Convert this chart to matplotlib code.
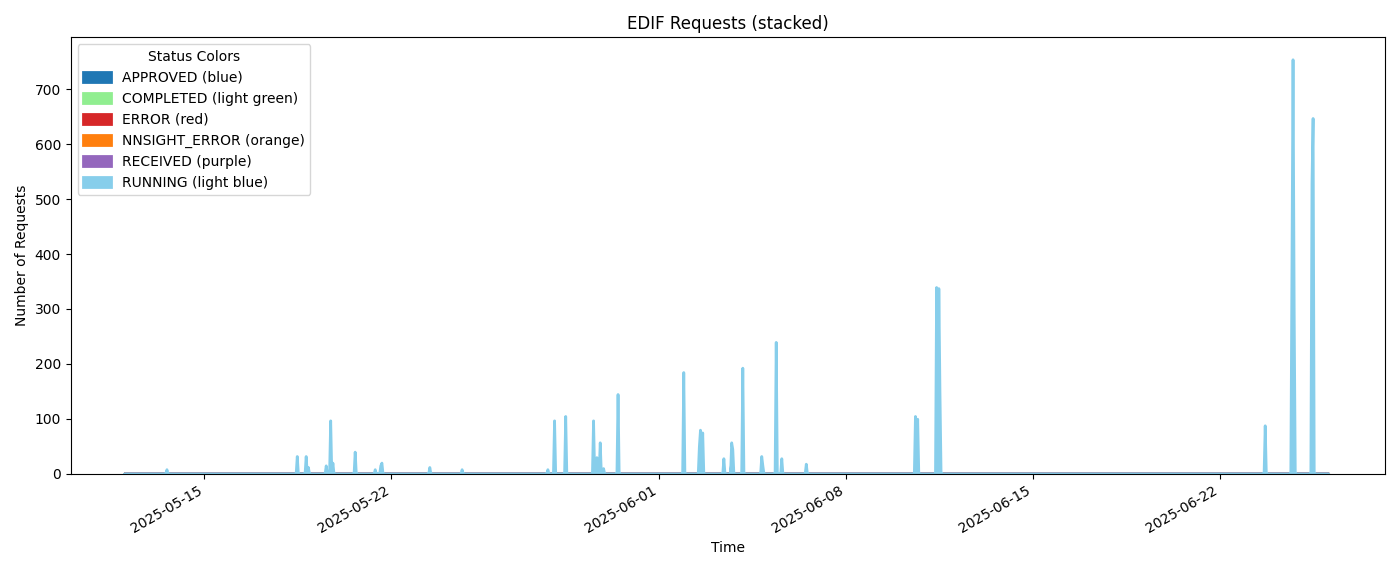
import numpy as np
import pandas as pd
import matplotlib
matplotlib.use("Agg")
import matplotlib.pyplot as plt
import matplotlib.dates as mdates

# hourly counts, zero everywhere except the spikes listed here
start = "2025-05-12 00:00"
end = "2025-06-26 01:00"
spike_times = ["2025-05-13 14:00", "2025-05-18 11:00", "2025-05-18 19:00", "2025-05-18 21:00",
               "2025-05-19 13:00", "2025-05-19 17:00", "2025-05-19 19:00", "2025-05-20 15:00",
               "2025-05-21 09:00", "2025-05-21 14:00", "2025-05-21 15:00", "2025-05-23 10:00",
               "2025-05-24 15:00", "2025-05-27 20:00", "2025-05-28 02:00", "2025-05-28 12:00",
               "2025-05-29 13:00", "2025-05-29 16:00", "2025-05-29 19:00", "2025-05-29 22:00",
               "2025-05-30 11:00", "2025-06-01 22:00", "2025-06-02 12:00", "2025-06-02 13:00",
               "2025-06-02 15:00", "2025-06-03 10:00", "2025-06-03 17:00", "2025-06-03 18:00",
               "2025-06-04 03:00", "2025-06-04 20:00", "2025-06-04 21:00", "2025-06-05 09:00",
               "2025-06-05 14:00", "2025-06-06 12:00", "2025-06-10 14:00", "2025-06-10 16:00",
               "2025-06-11 09:00", "2025-06-11 11:00", "2025-06-11 12:00", "2025-06-23 16:00",
               "2025-06-24 16:00", "2025-06-24 17:00", "2025-06-24 18:00", "2025-06-25 10:00",
               "2025-06-25 11:00"]
approved = [0]*36 + [0, 55, 0] + [0]*6
completed = [0]*45
error = [0]*26 + [10, 0] + [0]*17
nnsight_error = [0]*26 + [5, 0] + [0]*8 + [0, 30, 0] + [0]*6
received = [0]*26 + [5, 0] + [0]*8 + [0, 25, 0] + [0]*6
running = [8, 32, 32, 12, 15, 97, 20, 40, 8, 15, 20, 12, 8, 8, 97, 105, 97, 30, 57, 10,
           145, 185, 50, 80, 75, 28, 37, 45, 193, 32, 15, 240, 28, 18, 105, 100,
           340, 228, 150, 88, 370, 755, 300, 530, 648]

statuses = ["APPROVED (blue)", "COMPLETED (light green)", "ERROR (red)",
            "NNSIGHT_ERROR (orange)", "RECEIVED (purple)", "RUNNING (light blue)"]
colors = ["#1f77b4", "lightgreen", "#d62728", "#ff7f0e", "#9467bd", "skyblue"]

idx = pd.date_range(start, end, freq="h")
df = pd.DataFrame(0.0, index=idx, columns=statuses)
for col, vals in zip(statuses, [approved, completed, error, nnsight_error, received, running]):
    df.loc[pd.to_datetime(spike_times), col] = vals

fig, ax = plt.subplots(figsize=(14, 5.7), dpi=100)
polys = ax.stackplot(df.index, *[df[c].values for c in statuses], labels=statuses, colors=colors)
for p, c in zip(polys, colors):
    p.set_edgecolor(c)
    p.set_linewidth(2.0)
ax.set_title("EDIF Requests (stacked)")
ax.set_xlabel("Time")
ax.set_ylabel("Number of Requests")
ax.set_ylim(0, 795)
ax.set_xlim(pd.Timestamp("2025-05-10 00:00"), pd.Timestamp("2025-06-28 04:00"))
ax.xaxis.set_major_locator(mdates.DayLocator(bymonthday=[1, 8, 15, 22]))
ax.xaxis.set_major_formatter(mdates.DateFormatter("%Y-%m-%d"))
ax.legend(title="Status Colors", loc="upper left")
fig.autofmt_xdate()
fig.tight_layout()
fig.savefig("out.png")
